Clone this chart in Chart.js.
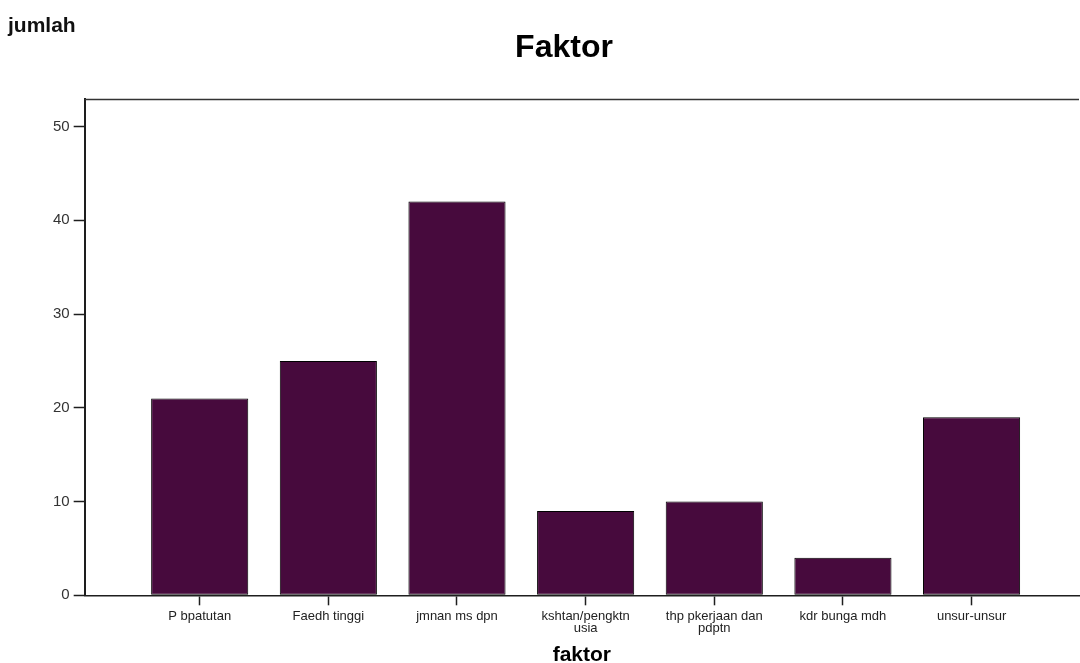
<!DOCTYPE html>
<html>
<head>
<meta charset="utf-8">
<title>Faktor</title>
<script src="https://cdn.jsdelivr.net/npm/chart.js@4.4.1/dist/chart.umd.min.js"></script>
<style>
  html, body { margin: 0; padding: 0; background: #fff; }
  #wrap { position: relative; width: 1080px; height: 663px; }
</style>
</head>
<body>
<div id="wrap"><canvas id="chart"></canvas></div>
<script>
// Bar chart: jumlah per faktor
const CATEGORIES = [
  'P bpatutan',
  'Faedh tinggi',
  'jmnan ms dpn',
  ['kshtan/pengktn', 'usia'],
  ['thp pkerjaan dan', 'pdptn'],
  'kdr bunga mdh',
  'unsur-unsur',
];
const COUNTS = [21, 25, 42, 9, 10, 4, 19];
const Y_TICKS = [0, 10, 20, 30, 40, 50];

const FONT = "'Liberation Sans', Arial, sans-serif";
const INK = '#1e1e1e';
const BAR = '#470a3d';

// top edge of the plot frame + the "jumlah" axis caption in the corner
const framePlugin = {
  id: 'frame',
  afterDraw(chart) {
    const { ctx, chartArea: a } = chart;
    ctx.save();
    ctx.strokeStyle = '#333';
    ctx.lineWidth = 1.5;
    ctx.beginPath();
    ctx.moveTo(a.left, a.top);
    ctx.lineTo(a.right, a.top);
    ctx.stroke();
    ctx.fillStyle = '#111';
    ctx.font = `bold 21px ${FONT}`;
    ctx.textBaseline = 'alphabetic';
    ctx.fillText('jumlah', 8, 32);
    ctx.restore();
  },
};

new Chart(document.getElementById('chart'), {
  type: 'bar',
  data: {
    datasets: [{
      label: 'jumlah',
      data: COUNTS.map((v, i) => ({ x: i, y: v })),
      backgroundColor: BAR,
      borderColor: '#000',
      borderWidth: 1,
      borderSkipped: false,
      categoryPercentage: 1,
      barPercentage: 0.755,
    }],
  },
  plugins: [framePlugin],
  options: {
    responsive: true, maintainAspectRatio: false, animation: false,
    layout: { padding: { left: 49, right: 1, top: 0, bottom: -3 } },
    plugins: {
      legend: { display: false },
      tooltip: { enabled: false },
      title: {
        display: true, text: 'Faktor', color: '#000',
        font: { family: FONT, size: 32, weight: 'bold', lineHeight: 1.2 },
        padding: { top: 29, bottom: 32 },
      },
    },
    scales: {
      x: {
        type: 'linear', offset: false,
        min: -0.894, max: 6.835,
        afterBuildTicks: axis => { axis.ticks = CATEGORIES.map((_, i) => ({ value: i })); },
        grid: { display: true, drawOnChartArea: false, offset: false, tickLength: 10, tickColor: INK, tickWidth: 1.5 },
        border: { display: true, color: INK, width: 1.5 },
        ticks: {
          autoSkip: false, maxRotation: 0, padding: 5, color: '#222',
          font: { family: FONT, size: 13, lineHeight: 0.95 },
          callback: v => CATEGORIES[v],
        },
        title: {
          display: true, text: 'faktor', color: '#000',
          font: { family: FONT, size: 21, weight: 'bold', lineHeight: 1 },
          padding: { top: 5, bottom: 0 },
        },
      },
      y: {
        min: 0, max: 52.9,
        afterBuildTicks: axis => { axis.ticks = Y_TICKS.map(v => ({ value: v })); },
        grid: { display: true, drawOnChartArea: false, tickLength: 11, tickColor: INK, tickWidth: 1.5 },
        border: { display: true, color: INK, width: 2 },
        ticks: { padding: 4, color: '#333', font: { family: FONT, size: 15 } },
      },
    },
  },
});
</script>
</body>
</html>
